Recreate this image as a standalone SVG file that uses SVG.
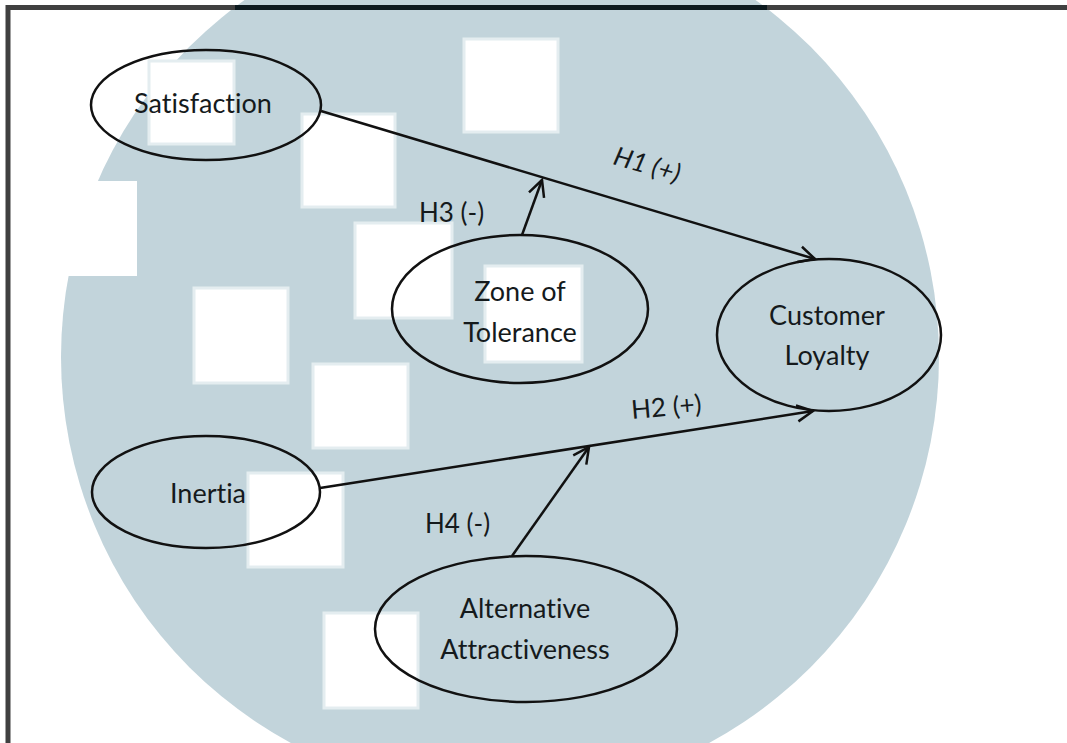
<svg xmlns="http://www.w3.org/2000/svg" width="1067" height="743" viewBox="0 0 1067 743">
  <style>
    .node ellipse { fill: none; stroke: #111; stroke-width: 2.5; }
    .lbl { font-family: Lato, "Liberation Sans", sans-serif; font-size: 27px; fill: #151a1c; text-anchor: middle; font-variant-ligatures: none; }
    .hyp { font-family: Lato, "Liberation Sans", sans-serif; font-size: 26px; fill: #151a1c; font-variant-ligatures: none; }
    .conn line { stroke: #111; stroke-width: 2.5; fill: none; }
    .sq { fill: #ffffff; stroke: #e4edf0; stroke-width: 3; }
  </style>
  <defs>
    <marker id="arr" markerUnits="userSpaceOnUse" markerWidth="24" markerHeight="24" refX="18" refY="10" orient="auto">
      <path d="M2,2 L18,10 L2,18" fill="none" stroke="#111" stroke-width="2.5"/>
    </marker>
  </defs>
  <rect x="0" y="0" width="1067" height="743" fill="#ffffff"/>
  <g id="watermark">
    <circle cx="500" cy="357" r="439" fill="#c2d4db"/>
    <rect x="40" y="181" width="97" height="95" fill="#ffffff"/>
    <rect class="sq" x="149" y="61" width="85" height="83"/>
    <rect class="sq" x="302" y="114" width="93" height="93"/>
    <rect class="sq" x="464" y="39" width="94" height="93"/>
    <rect class="sq" x="355" y="223" width="97" height="95"/>
    <rect class="sq" x="194" y="288" width="94" height="95"/>
    <rect class="sq" x="313" y="364" width="95" height="84"/>
    <rect class="sq" x="485" y="266" width="97" height="96"/>
    <rect class="sq" x="248" y="473" width="95" height="94"/>
    <rect class="sq" x="324" y="613" width="94" height="95"/>
  </g>
  <g id="frame">
    <line x1="8" y1="7.5" x2="1067" y2="7.5" stroke="#404040" stroke-width="5"/>
    <line x1="235" y1="7.5" x2="767" y2="7.5" stroke="#0d1a1f" stroke-width="5"/>
    <line x1="8" y1="5" x2="8" y2="743" stroke="#404040" stroke-width="5"/>
  </g>
  <g id="connectors" class="conn">
    <line x1="321" y1="111" x2="815" y2="259" marker-end="url(#arr)"/>
    <line x1="320" y1="488" x2="813" y2="411" marker-end="url(#arr)"/>
    <line x1="522" y1="235" x2="542" y2="180" marker-end="url(#arr)"/>
    <line x1="512" y1="556" x2="589" y2="447" marker-end="url(#arr)"/>
  </g>
  <g id="labels">
    <text class="hyp" font-style="italic" transform="translate(612,164) rotate(16)">H1 (+)</text>
    <text class="hyp" x="419" y="222">H3 (-)</text>
    <text class="hyp" transform="translate(632,419) rotate(-5)">H2 (+)</text>
    <text class="hyp" x="425" y="533">H4 (-)</text>
  </g>
  <g id="satisfaction" class="node">
    <ellipse cx="206" cy="105" rx="115" ry="55"/>
    <text class="lbl" x="203" y="113">Satisfaction</text>
  </g>
  <g id="zone-of-tolerance" class="node">
    <ellipse cx="520" cy="309" rx="128" ry="74"/>
    <text class="lbl" x="520" y="301">Zone of</text>
    <text class="lbl" x="520" y="342">Tolerance</text>
  </g>
  <g id="customer-loyalty" class="node">
    <ellipse cx="829" cy="335" rx="112" ry="76"/>
    <text class="lbl" x="827" y="325">Customer</text>
    <text class="lbl" x="827" y="365">Loyalty</text>
  </g>
  <g id="inertia" class="node">
    <ellipse cx="206" cy="492" rx="114" ry="56"/>
    <text class="lbl" x="208" y="503">Inertia</text>
  </g>
  <g id="alternative-attractiveness" class="node">
    <ellipse cx="526" cy="629" rx="151" ry="73"/>
    <text class="lbl" x="525" y="618">Alternative</text>
    <text class="lbl" x="525" y="659">Attractiveness</text>
  </g>
</svg>
